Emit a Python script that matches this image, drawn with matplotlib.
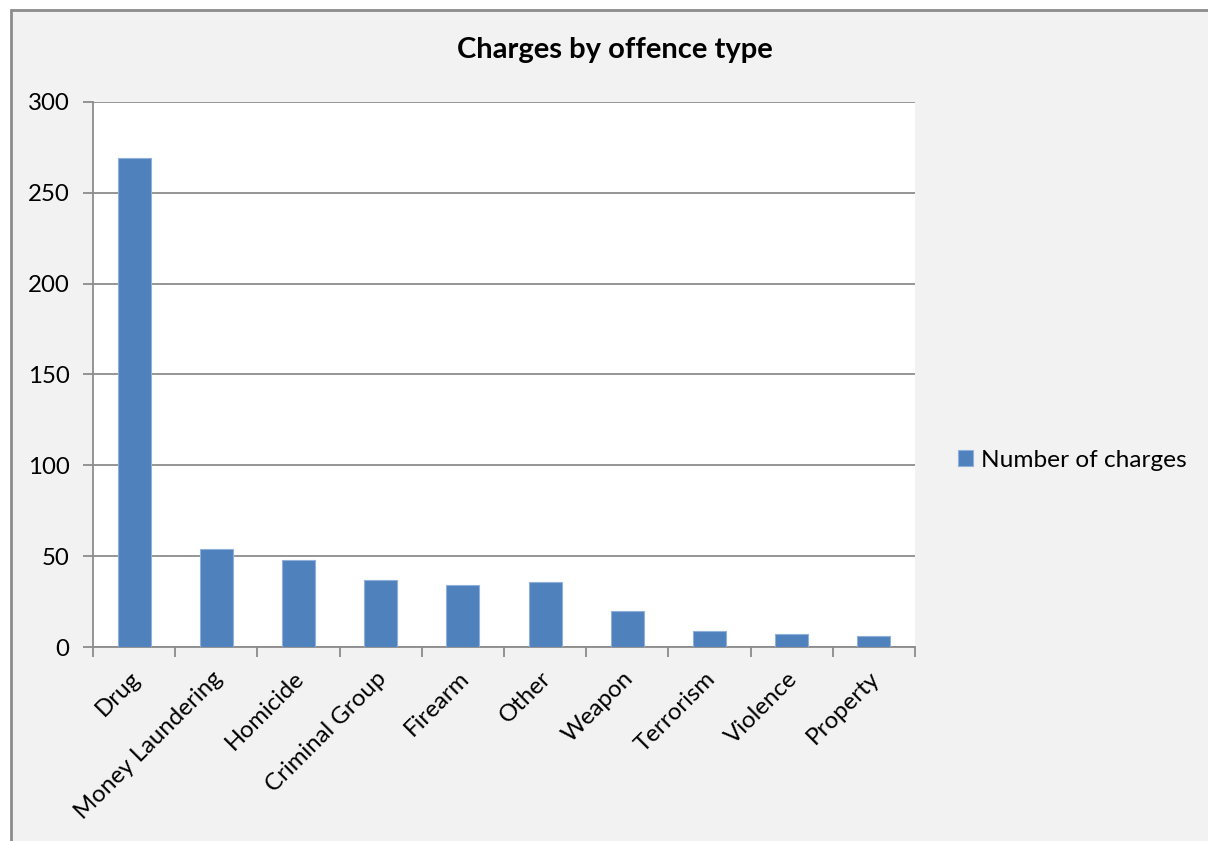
import matplotlib.pyplot as plt
from matplotlib.patches import Rectangle
from matplotlib.transforms import ScaledTranslation
import numpy as np

offences = ['Drug', 'Money Laundering', 'Homicide', 'Criminal Group', 'Firearm',
            'Other', 'Weapon', 'Terrorism', 'Violence', 'Property']
charges = [269, 54, 48, 37, 34, 36, 20, 9, 7, 6]
y_ticks = [0, 50, 100, 150, 200, 250, 300]

plt.rcParams['font.family'] = ['Lato', 'DejaVu Sans']

fig = plt.figure(figsize=(12.08, 8.41), dpi=100)
fig.patch.set_facecolor('white')

# chart area frame (gray, runs past the right and bottom edges)
fig.patches.append(Rectangle((11 / 1208, -0.05), 1.2, 1 - 10 / 841 + 0.05,
                             transform=fig.transFigure, facecolor='#F2F2F2',
                             edgecolor='#8C8C8C', linewidth=2, zorder=-5))

ax = fig.add_axes([93 / 1208, 1 - 647 / 841, (915 - 93) / 1208, (647 - 102) / 841])
ax.set_facecolor('white')

x = np.arange(len(offences))
ax.bar(x, charges, width=0.4, color='#4F81BD', edgecolor='#8FB0DA', linewidth=0.8,
       label='Number of charges', zorder=3)

ax.set_xlim(-0.5, len(offences) - 0.5)
ax.set_ylim(0, 300)
ax.set_yticks(y_ticks)
ax.set_yticklabels([str(v) for v in y_ticks], fontsize=17.3)
ax.yaxis.grid(True, color='#8C8C8C', linewidth=1.3, zorder=0)

# ticks between categories, labels at category centres
ax.set_xticks(np.arange(len(offences) + 1) - 0.5)
ax.set_xticklabels([])
ax.set_xticks(x, minor=True)
ax.set_xticklabels(offences, minor=True, rotation=45, ha='right',
                   rotation_mode='anchor', fontsize=17.3)
ax.tick_params(axis='x', which='minor', length=0, pad=15)
ax.tick_params(axis='x', which='major', length=7, color='#8C8C8C', width=1.3)
ax.tick_params(axis='y', length=7, color='#8C8C8C', width=1.3, pad=10)

# nudge category labels a little to the left
shift = ScaledTranslation(-5 / 100, 0, fig.dpi_scale_trans)
for lbl in ax.get_xticklabels(minor=True):
    lbl.set_transform(lbl.get_transform() + shift)

for side in ['top', 'right']:
    ax.spines[side].set_visible(False)
for side in ['left', 'bottom']:
    ax.spines[side].set_color('#8C8C8C')
    ax.spines[side].set_linewidth(1.3)

fig.text(615 / 1208, 1 - 50 / 841, 'Charges by offence type', ha='center', va='center',
         fontsize=21, fontweight='bold')

ax.legend(loc='center left', bbox_to_anchor=(936 / 1208, 1 - 460 / 841),
          bbox_transform=fig.transFigure, frameon=False, fontsize=17.6,
          handlelength=0.6, handleheight=0.6, handletextpad=0.35)

fig.savefig('out.png', dpi=100)
